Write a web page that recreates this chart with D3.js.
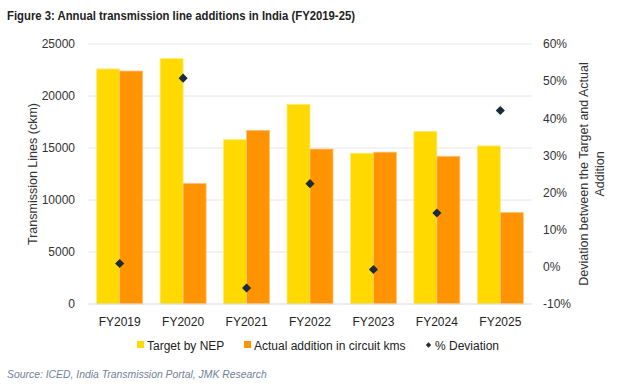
<!DOCTYPE html>
<html>
<head>
<meta charset="utf-8">
<script src="https://cdn.jsdelivr.net/npm/d3@7"></script>
<style>
  body { margin: 0; background: #fff; }
  svg { font-family: "Liberation Sans", Arial, sans-serif; }
</style>
</head>
<body>
<div id="chart"></div>
<script>
const years = ['FY2019', 'FY2020', 'FY2021', 'FY2022', 'FY2023', 'FY2024', 'FY2025'];
const target = [22600, 23600, 15800, 19200, 14500, 16600, 15200];
const actual = [22400, 11600, 16700, 14900, 14600, 14200, 8800];
const deviation = [0.9, 50.8, -5.7, 22.4, -0.7, 14.5, 42.1];
const leftTicks = [0, 5000, 10000, 15000, 20000, 25000];
const rightTicks = [-10, 0, 10, 20, 30, 40, 50, 60];

const W = 633, H = 386;
const margin = { top: 44, right: 101, bottom: 82, left: 88 };
const width = W - margin.left - margin.right;
const height = H - margin.top - margin.bottom;

const svg = d3.select('#chart').append('svg')
  .attr('width', W)
  .attr('height', H);

svg.append('text')
  .attr('x', 7).attr('y', 19.5)
  .attr('font-weight', 'bold')
  .attr('font-size', 13.5)
  .attr('textLength', 348)
  .attr('lengthAdjust', 'spacingAndGlyphs')
  .attr('fill', '#222')
  .text('Figure 3: Annual transmission line additions in India (FY2019-25)');

const g = svg.append('g')
  .attr('transform', `translate(${margin.left},${margin.top})`);

const x = d3.scaleBand().domain(years).range([0, width]).paddingInner(0.275).paddingOuter(0.137);
const xs = d3.scaleBand().domain(['t', 'a']).range([0, x.bandwidth()]);
const y = d3.scaleLinear().domain([0, 25000]).range([height, 0]);
const y2 = d3.scaleLinear().domain([-10, 60]).range([height, 0]);

// gridlines
g.append('g')
  .selectAll('line')
  .data(leftTicks.slice(1))
  .join('line')
  .attr('x1', 0).attr('x2', width)
  .attr('y1', d => y(d)).attr('y2', d => y(d))
  .attr('stroke', '#e6e6e6');

// bars
const groups = g.selectAll('.yr')
  .data(years)
  .join('g')
  .attr('transform', d => `translate(${x(d)},0)`);

groups.append('rect')
  .attr('x', xs('t'))
  .attr('width', xs.bandwidth())
  .attr('y', (d, i) => y(target[i]))
  .attr('height', (d, i) => y(0) - y(target[i]))
  .attr('fill', '#FFD900')
  .attr('stroke', '#FFE97a')
  .attr('stroke-width', 0.8);

groups.append('rect')
  .attr('x', xs('a'))
  .attr('width', xs.bandwidth())
  .attr('y', (d, i) => y(actual[i]))
  .attr('height', (d, i) => y(0) - y(actual[i]))
  .attr('fill', '#FF9400')
  .attr('stroke', '#FFC27a')
  .attr('stroke-width', 0.8);

// baseline
g.append('line')
  .attr('x1', 0).attr('x2', width)
  .attr('y1', height).attr('y2', height)
  .attr('stroke', '#d5dae3');

// deviation markers
const diamond = d3.symbol().type(d3.symbolSquare).size(42);
g.selectAll('.dev')
  .data(deviation)
  .join('path')
  .attr('d', diamond)
  .attr('transform', (d, i) => `translate(${x(years[i]) + x.bandwidth() / 2},${y2(d)}) rotate(45)`)
  .attr('fill', '#1c2b39');

// axes
const axisL = g.append('g')
  .call(d3.axisLeft(y).tickValues(leftTicks).tickSize(0).tickPadding(13).tickFormat(d3.format('d')));
axisL.select('.domain').remove();
axisL.selectAll('text').attr('font-size', 12).attr('fill', '#333').attr('font-family', 'Liberation Sans, Arial, sans-serif');

const axisR = g.append('g')
  .attr('transform', `translate(${width},0)`)
  .call(d3.axisRight(y2).tickValues(rightTicks).tickSize(0).tickPadding(11).tickFormat(d => d + '%'));
axisR.select('.domain').remove();
axisR.selectAll('text').attr('font-size', 12).attr('fill', '#333').attr('font-family', 'Liberation Sans, Arial, sans-serif');

const axisB = g.append('g')
  .attr('transform', `translate(0,${height})`)
  .call(d3.axisBottom(x).tickSize(0).tickPadding(13));
axisB.select('.domain').remove();
axisB.selectAll('text').attr('font-size', 12).attr('fill', '#222').attr('font-family', 'Liberation Sans, Arial, sans-serif');

// axis titles
svg.append('text')
  .attr('transform', `translate(37,${margin.top + height / 2}) rotate(-90)`)
  .attr('text-anchor', 'middle')
  .attr('font-size', 12.5)
  .attr('fill', '#333')
  .text('Transmission Lines (ckm)');

const rt = svg.append('text')
  .attr('transform', `translate(588,${margin.top + height / 2}) rotate(-90)`)
  .attr('text-anchor', 'middle')
  .attr('font-size', 12.5)
  .attr('fill', '#333');
rt.append('tspan').attr('x', 0).attr('dy', 0).text('Deviation between the Target and Actual');
rt.append('tspan').attr('x', 0).attr('dy', 15.5).text('Addition');

// legend
const legend = svg.append('g').attr('font-size', 12).attr('fill', '#222');
const legItems = [
  { label: 'Target by NEP', color: '#FFD900', x: 137, type: 'sq' },
  { label: 'Actual addition in circuit kms', color: '#FF9400', x: 244, type: 'sq' },
  { label: '% Deviation', color: '#1c2b39', x: 425, type: 'dm' }
];
legItems.forEach(d => {
  if (d.type === 'sq') {
    legend.append('rect').attr('x', d.x).attr('y', 341).attr('width', 7).attr('height', 7).attr('fill', d.color);
  } else {
    legend.append('path').attr('d', d3.symbol().type(d3.symbolSquare).size(14))
      .attr('transform', `translate(${d.x + 3.5},345) rotate(45)`).attr('fill', d.color);
  }
  legend.append('text').attr('x', d.x + 10).attr('y', 349.5).text(d.label);
});

svg.append('text')
  .attr('x', 7).attr('y', 378)
  .attr('font-size', 10.4)
  .attr('font-style', 'italic')
  .attr('fill', '#6f7f99')
  .text('Source: ICED, India Transmission Portal, JMK Research');
</script>
</body>
</html>
